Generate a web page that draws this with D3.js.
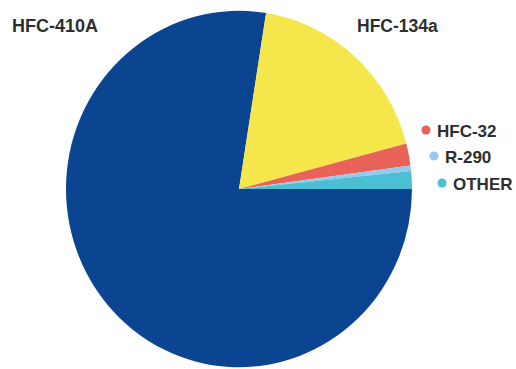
<!DOCTYPE html>
<meta charset="utf-8">
<script src="https://d3js.org/d3.v7.min.js"></script>
<style>
  body { margin: 0; background: #fff; }
  text { font-family: "Liberation Sans", Arial, sans-serif; font-weight: bold; fill: #2e2e2e; }
</style>
<body>
<div id="my_dataviz"></div>
<script>
// data (share of total, %)
var refrigerants = ["HFC-410A", "HFC-134a", "HFC-32", "R-290", "OTHER"];
var shares = [77.5, 18.4, 2.0, 0.5, 1.6];
var colors = ["#0b4592", "#f4e64b", "#e8625a", "#94cbec", "#4bbfd4"];

var width = 516, height = 369;
var cx = 239, cy = 189, radius = 173;

var svg = d3.select("#my_dataviz")
  .append("svg")
  .attr("width", width)
  .attr("height", height);

var data = refrigerants.map(function (d, i) { return { name: d, value: shares[i], color: colors[i] }; });

// pie starts at 3 o'clock and runs clockwise
var pie = d3.pie()
  .sort(null)
  .value(function (d) { return d.value; })
  .startAngle(Math.PI / 2)
  .endAngle(Math.PI / 2 + 2 * Math.PI);

var arc = d3.arc().innerRadius(0).outerRadius(radius);

svg.append("g")
  .attr("transform", "translate(" + cx + "," + cy + ") scale(1,1.03)")
  .selectAll("path")
  .data(pie(data))
  .enter()
  .append("path")
  .attr("d", arc)
  .attr("fill", function (d) { return d.data.color; });

// big labels
svg.append("text").attr("x", 12).attr("y", 32).attr("font-size", "18px").text(refrigerants[0]);
svg.append("text").attr("x", 357).attr("y", 32).attr("font-size", "17.5px").text(refrigerants[1]);

// small legend entries
var legendPos = [[426, 130], [434, 156], [442, 183]];
var legend = svg.append("g")
  .selectAll("g")
  .data(data.slice(2))
  .enter()
  .append("g")
  .attr("transform", function (d, i) { return "translate(" + legendPos[i][0] + "," + legendPos[i][1] + ")"; });

legend.append("circle").attr("r", 4.5).attr("fill", function (d) { return d.color; });
legend.append("text")
  .attr("x", 11)
  .attr("y", 6.5)
  .attr("font-size", "17px")
  .text(function (d) { return d.name; });
</script>
</body>
